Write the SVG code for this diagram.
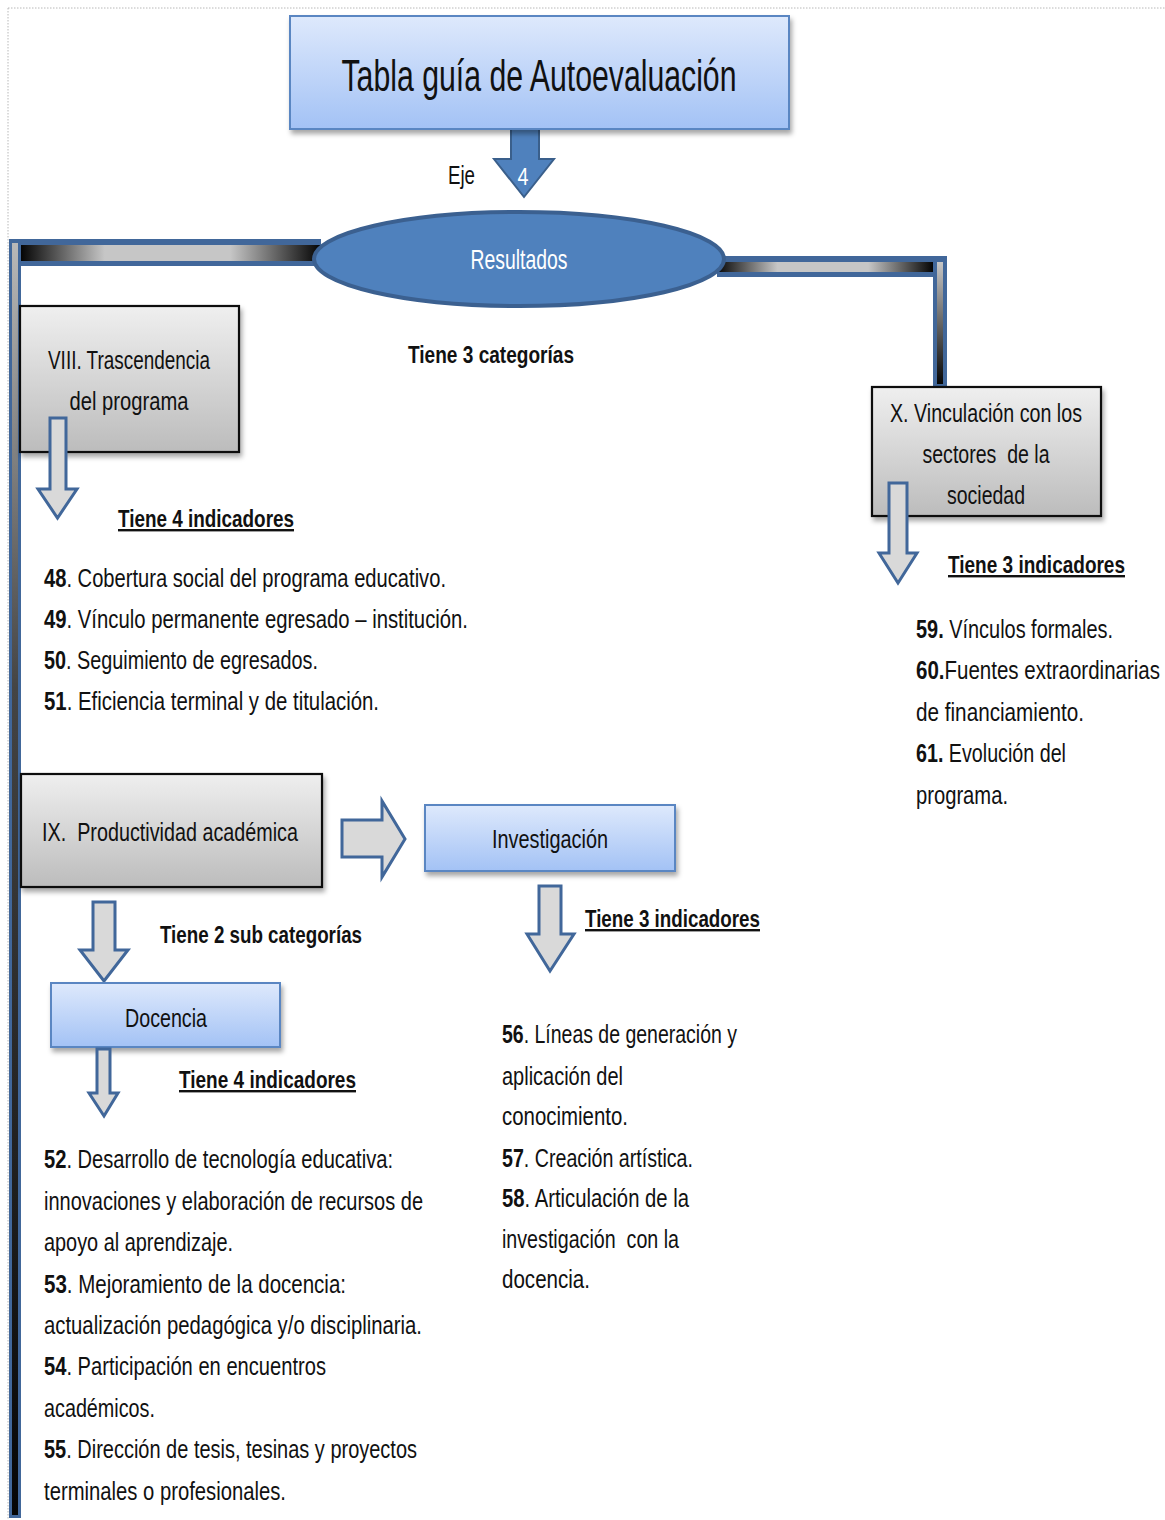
<svg xmlns="http://www.w3.org/2000/svg" width="1165" height="1520" viewBox="0 0 1165 1520">
<style>
text{font-family:"Liberation Sans Narrow","Liberation Sans",Arial,sans-serif;fill:#111}
.t{font-size:25px}
.bx{font-size:26px}
.b{font-weight:bold}
.h{font-size:24px;font-weight:bold}
.u{text-decoration:underline}
.c{text-anchor:middle}
.w{fill:#fff}
.gray{fill:url(#gGray);stroke:#111;stroke-width:2.2}
.blue{fill:url(#gBlue);stroke:#5a86c2;stroke-width:2}
.oarr{fill:#d9d9d9;stroke:#41679a;stroke-width:3;stroke-linejoin:miter}
.frame{fill:none;stroke:#b8b8b8;stroke-width:1;stroke-dasharray:1.5 1.5}
</style>
<defs>
<linearGradient id="gBlue" x1="0" y1="0" x2="0" y2="1"><stop offset="0" stop-color="#dee9fc"/><stop offset="1" stop-color="#a3c2f5"/></linearGradient>
<linearGradient id="gGray" x1="0" y1="0" x2="0" y2="1"><stop offset="0" stop-color="#efefef"/><stop offset="1" stop-color="#bcbcbc"/></linearGradient>
<linearGradient id="gBarH" x1="0" y1="0" x2="1" y2="0"><stop offset="0" stop-color="#050505"/><stop offset="0.28" stop-color="#c6c6c6"/><stop offset="0.7" stop-color="#c6c6c6"/><stop offset="1" stop-color="#050505"/></linearGradient>
<linearGradient id="gBarV" x1="0" y1="0" x2="0" y2="1"><stop offset="0" stop-color="#b8b8b8"/><stop offset="0.35" stop-color="#444"/><stop offset="1" stop-color="#050505"/></linearGradient>
<linearGradient id="gBarV2" x1="0" y1="0" x2="0" y2="1"><stop offset="0" stop-color="#c6c6c6"/><stop offset="1" stop-color="#050505"/></linearGradient>
<filter id="sh" x="-10%" y="-10%" width="125%" height="135%"><feDropShadow dx="2" dy="4" stdDeviation="2.5" flood-color="#000" flood-opacity="0.35"/></filter>
</defs>
<rect width="1165" height="1520" fill="#fff"/>
<path class="frame" d="M8,8 H1165 M8,8 V1520"/>

<g id="connectors">
  <path d="M9,239 H321 V266 H21 V1518 H9 Z" fill="#41679a"/>
  <rect x="21" y="245" width="299" height="16" fill="url(#gBarH)"/>
  <rect x="12" y="243" width="6" height="1272" fill="url(#gBarV)"/>
  <path d="M717,256 H947 V387 H933 V277 H717 Z" fill="#41679a"/>
  <rect x="717" y="262" width="216" height="10" fill="url(#gBarH)"/>
  <rect x="937" y="262" width="6" height="122" fill="url(#gBarV2)"/>
  <path id="arrEje" d="M511,127 H539 V159 H554 L524,197 L494,159 H511 Z" fill="#4f81bd" stroke="#3a5f8b" stroke-width="2"/>
  <path id="arrIX" class="oarr" d="M342,820 H382 V801 L405,839 L382,877 V857 H342 Z"/>
</g>

<g id="title">
  <rect x="290" y="16" width="499" height="113" class="blue" filter="url(#sh)"/>
  <text x="539" y="91" class="c" font-size="44" textLength="395" lengthAdjust="spacingAndGlyphs">Tabla guía de Autoevaluación</text>
</g>
<g id="eje">
  <text x="448" y="184" font-size="26" textLength="27" lengthAdjust="spacingAndGlyphs">Eje</text>
  <text x="523" y="185" class="c w" font-size="24" textLength="11" lengthAdjust="spacingAndGlyphs">4</text>
</g>
<g id="resultados">
  <ellipse cx="519" cy="259" rx="205" ry="47" fill="#4f81bd" stroke="#3b6090" stroke-width="4"/>
  <text x="519" y="269" class="c w" font-size="28" textLength="97" lengthAdjust="spacingAndGlyphs">Resultados</text>
</g>
<g id="cat3">
  <text x="408" y="363" class="h" textLength="166" lengthAdjust="spacingAndGlyphs">Tiene 3 categorías</text>
</g>

<g id="nodeVIII">
  <rect x="20" y="306" width="219" height="146" class="gray" filter="url(#sh)"/>
  <text x="129" y="369" class="bx c" textLength="162" lengthAdjust="spacingAndGlyphs">VIII. Trascendencia</text>
  <text x="129" y="410" class="bx c" textLength="119" lengthAdjust="spacingAndGlyphs">del programa</text>
  <path class="oarr" d="M50,418 H66 V489 H77 L57.5,518 L38,489 H50 Z"/>
  <text x="118" y="527" class="h u" textLength="176" lengthAdjust="spacingAndGlyphs">Tiene 4 indicadores</text>
</g>
<g id="list48">
  <text x="44" y="587" class="t" textLength="402" lengthAdjust="spacingAndGlyphs"><tspan class="b">48</tspan>. Cobertura social del programa educativo.</text>
  <text x="44" y="628" class="t" textLength="424" lengthAdjust="spacingAndGlyphs"><tspan class="b">49</tspan>. Vínculo permanente egresado – institución.</text>
  <text x="44" y="669" class="t" textLength="274" lengthAdjust="spacingAndGlyphs"><tspan class="b">50</tspan>. Seguimiento de egresados.</text>
  <text x="44" y="710" class="t" textLength="335" lengthAdjust="spacingAndGlyphs"><tspan class="b">51</tspan>. Eficiencia terminal y de titulación.</text>
</g>

<g id="nodeX">
  <rect x="872" y="387" width="229" height="129" class="gray" filter="url(#sh)"/>
  <text x="986" y="422" class="bx c" textLength="192" lengthAdjust="spacingAndGlyphs">X. Vinculación con los</text>
  <text x="986" y="463" class="bx c" textLength="127" lengthAdjust="spacingAndGlyphs" style="white-space:pre">sectores  de la</text>
  <text x="986" y="504" class="bx c" textLength="78" lengthAdjust="spacingAndGlyphs">sociedad</text>
  <path class="oarr" d="M889,483 H907 V553 H917 L898,583 L879,553 H889 Z"/>
  <text x="948" y="573" class="h u" textLength="177" lengthAdjust="spacingAndGlyphs">Tiene 3 indicadores</text>
</g>
<g id="list59">
  <text x="916" y="638" class="t" textLength="197" lengthAdjust="spacingAndGlyphs"><tspan class="b">59.</tspan> Vínculos formales.</text>
  <text x="916" y="679" class="t" textLength="244" lengthAdjust="spacingAndGlyphs"><tspan class="b">60.</tspan>Fuentes extraordinarias</text>
  <text x="916" y="721" class="t" textLength="168" lengthAdjust="spacingAndGlyphs">de financiamiento.</text>
  <text x="916" y="762" class="t" textLength="150" lengthAdjust="spacingAndGlyphs"><tspan class="b">61.</tspan> Evolución del</text>
  <text x="916" y="804" class="t" textLength="92" lengthAdjust="spacingAndGlyphs">programa.</text>
</g>

<g id="nodeIX">
  <rect x="21" y="774" width="301" height="113" class="gray" filter="url(#sh)"/>
  <text x="42" y="841" class="bx" textLength="256" lengthAdjust="spacingAndGlyphs" style="white-space:pre">IX.  Productividad académica</text>
  <path class="oarr" d="M93,902 H115 V950 H128 L104,981 L80,950 H93 Z"/>
  <text x="160" y="943" class="h" textLength="202" lengthAdjust="spacingAndGlyphs">Tiene 2 sub categorías</text>
</g>

<g id="nodeInvestigacion">
  <rect x="425" y="805" width="250" height="66" class="blue" filter="url(#sh)"/>
  <text x="550" y="848" class="t c" textLength="116" lengthAdjust="spacingAndGlyphs">Investigación</text>
  <path class="oarr" d="M539,886 H561 V934 H574 L550,971 L527,934 H539 Z"/>
  <text x="585" y="927" class="h u" textLength="175" lengthAdjust="spacingAndGlyphs">Tiene 3 indicadores</text>
</g>
<g id="list56">
  <text x="502" y="1043" class="t" textLength="235" lengthAdjust="spacingAndGlyphs"><tspan class="b">56</tspan>. Líneas de generación y</text>
  <text x="502" y="1085" class="t" textLength="121" lengthAdjust="spacingAndGlyphs">aplicación del</text>
  <text x="502" y="1125" class="t" textLength="126" lengthAdjust="spacingAndGlyphs">conocimiento.</text>
  <text x="502" y="1167" class="t" textLength="191" lengthAdjust="spacingAndGlyphs"><tspan class="b">57</tspan>. Creación artística.</text>
  <text x="502" y="1207" class="t" textLength="187" lengthAdjust="spacingAndGlyphs"><tspan class="b">58</tspan>. Articulación de la</text>
  <text x="502" y="1248" class="t" textLength="177" lengthAdjust="spacingAndGlyphs" style="white-space:pre">investigación  con la</text>
  <text x="502" y="1288" class="t" textLength="88" lengthAdjust="spacingAndGlyphs">docencia.</text>
</g>

<g id="nodeDocencia">
  <rect x="51" y="983" width="229" height="64" class="blue" filter="url(#sh)"/>
  <text x="166" y="1027" class="t c" textLength="82" lengthAdjust="spacingAndGlyphs">Docencia</text>
  <path class="oarr" d="M97,1049 H110 V1093 H118 L104,1116 L89,1093 H97 Z"/>
  <text x="179" y="1088" class="h u" textLength="177" lengthAdjust="spacingAndGlyphs">Tiene 4 indicadores</text>
</g>
<g id="list52">
  <text x="44" y="1168" class="t" textLength="349" lengthAdjust="spacingAndGlyphs"><tspan class="b">52</tspan>. Desarrollo de tecnología educativa:</text>
  <text x="44" y="1210" class="t" textLength="379" lengthAdjust="spacingAndGlyphs">innovaciones y elaboración de recursos de</text>
  <text x="44" y="1251" class="t" textLength="189" lengthAdjust="spacingAndGlyphs">apoyo al aprendizaje.</text>
  <text x="44" y="1293" class="t" textLength="302" lengthAdjust="spacingAndGlyphs"><tspan class="b">53</tspan>. Mejoramiento de la docencia:</text>
  <text x="44" y="1334" class="t" textLength="378" lengthAdjust="spacingAndGlyphs">actualización pedagógica y/o disciplinaria.</text>
  <text x="44" y="1375" class="t" textLength="282" lengthAdjust="spacingAndGlyphs"><tspan class="b">54</tspan>. Participación en encuentros</text>
  <text x="44" y="1417" class="t" textLength="111" lengthAdjust="spacingAndGlyphs">académicos.</text>
  <text x="44" y="1458" class="t" textLength="373" lengthAdjust="spacingAndGlyphs"><tspan class="b">55</tspan>. Dirección de tesis, tesinas y proyectos</text>
  <text x="44" y="1500" class="t" textLength="242" lengthAdjust="spacingAndGlyphs">terminales o profesionales.</text>
</g>
</svg>
